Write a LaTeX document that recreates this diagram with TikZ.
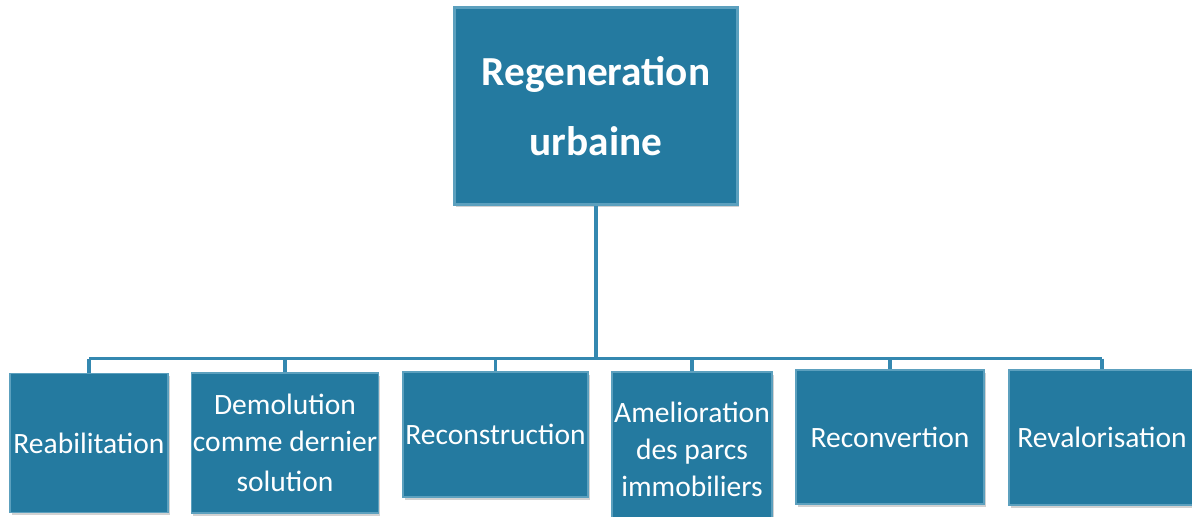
\documentclass[tikz,border=0pt]{standalone}
\usepackage{fontspec}
\setmainfont{Carlito}
\usepackage{tikz}
\usepackage{xcolor}
\usetikzlibrary{shadows}
\definecolor{boxblue}{RGB}{36,122,160}
\definecolor{edgeblue}{RGB}{92,160,190}
\definecolor{lineblue}{RGB}{52,136,176}
\tikzset{
    top-box/.style = {fill=boxblue, draw=edgeblue, line width=1.2pt, rectangle, text=white, font=\fontsize{23.5}{40}\selectfont\bfseries, align=center, inner sep=0pt, drop shadow={shadow xshift=1pt, shadow yshift=-1.5pt, opacity=0.35}},
    sub-box/.style = {fill=boxblue, draw=edgeblue, line width=1pt, rectangle, text=white, font=\fontsize{16.8}{21}\selectfont, align=center, inner sep=0pt, drop shadow={shadow xshift=1pt, shadow yshift=-1.5pt, opacity=0.35}},
    tree-line/.style = {draw=lineblue, line width=2.2pt},
}

\begin{document}
\begin{tikzpicture}
\useasboundingbox (0,0) rectangle (23.84,-10.34);
\fill[white] (0,0) rectangle (23.84,-10.34);
% root
\node [top-box, minimum width=5.66cm, minimum height=3.94cm] (root) at (11.92,-2.12) {Regeneration\\urbaine};
% children
\node [sub-box, minimum width=3.16cm, minimum height=2.78cm] (reab) at (1.78,-8.86) {Reabilitation};
\node [sub-box, minimum width=3.74cm, minimum height=2.80cm] (demol) at (5.70,-8.86) {Demolution\\comme dernier\\[2pt] solution};
\node [sub-box, minimum width=3.70cm, minimum height=2.50cm] (recons) at (9.91,-8.69) {Reconstruction};
\node [sub-box, minimum width=3.20cm, minimum height=3.10cm] (amelio) at (13.84,-8.99) {Amelioration\\des parcs\\immobiliers};
\node [sub-box, minimum width=3.76cm, minimum height=2.68cm] (reconv) at (17.80,-8.74) {Reconvertion};
\node [sub-box, minimum width=3.72cm, minimum height=2.70cm] (reval) at (22.04,-8.75) {Revalorisation};
% connectors
\coordinate (bus) at (11.92,-7.17);
\draw [tree-line] (root.south) -- (bus);
\draw [tree-line] (reab.north |- bus) -- (reval.north |- bus);
\foreach \child in {reab, demol, recons, amelio, reconv, reval}
    \draw [tree-line] (\child.north |- bus) -- (\child.north);
\end{tikzpicture}
\end{document}
